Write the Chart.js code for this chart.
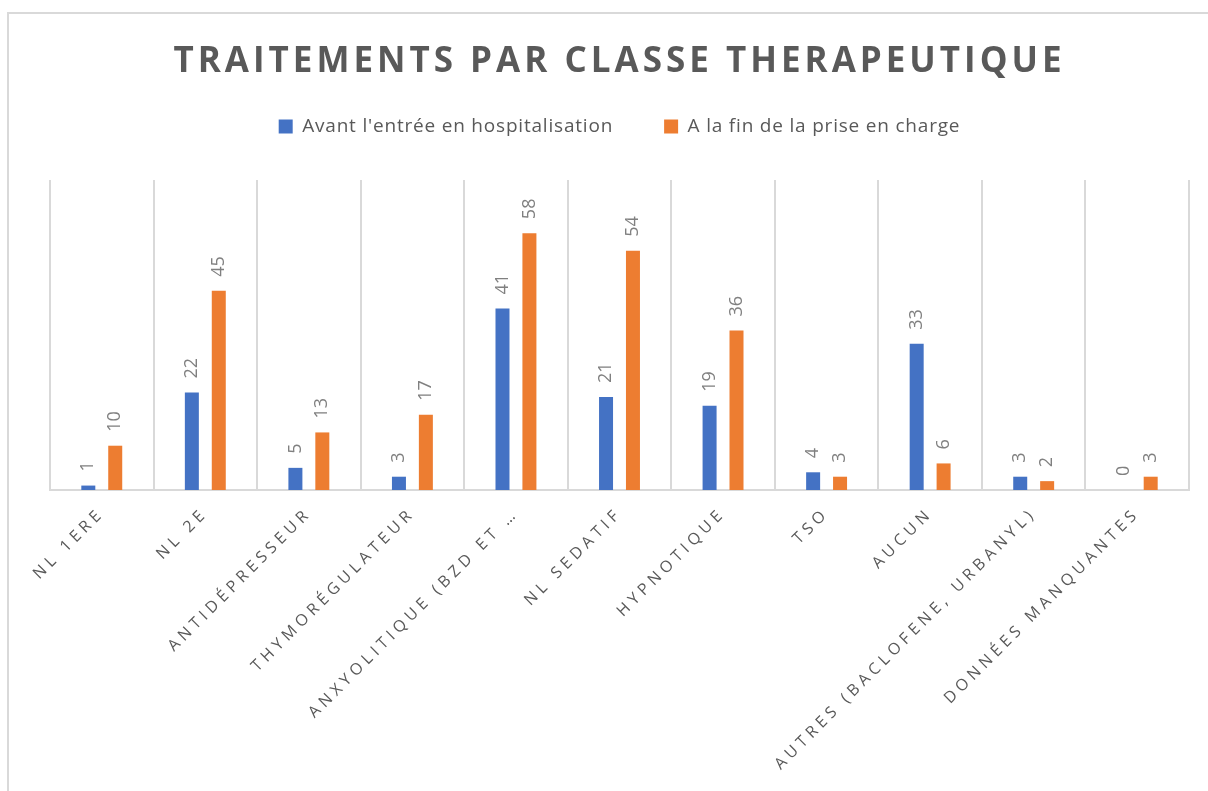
<!DOCTYPE html>
<html>
<head>
<meta charset="utf-8">
<script src="https://cdn.jsdelivr.net/npm/chart.js@4.4.1/dist/chart.umd.min.js"></script>
<style>
  html, body { margin: 0; padding: 0; background: #fff; overflow: hidden; }
  #frame { position: absolute; left: 7px; top: 12px; width: 1300px; height: 900px; border: 2px solid #d9d9d9; }
  #chart { position: absolute; left: 0; top: 0; }
</style>
</head>
<body>
<div id="frame"></div>
<canvas id="chart" width="1208" height="791"></canvas>
<script>
const categories = [
    'NL 1ERE', 'NL 2E', 'ANTIDÉPRESSEUR', 'THYMORÉGULATEUR', 'ANXYOLITIQUE (BZD ET …',
    'NL SEDATIF', 'HYPNOTIQUE', 'TSO', 'AUCUN', 'AUTRES (BACLOFENE, URBANYL)', 'DONNÉES MANQUANTES'
]
const avantHospit = [1, 22, 5, 3, 41, 21, 19, 4, 33, 3, 0]
const finPriseEnCharge = [10, 45, 13, 17, 58, 54, 36, 3, 6, 2, 3]
const seriesNames = ["Avant l'entrée en hospitalisation", 'A la fin de la prise en charge']
const yMin = 0
const yMax = 70

// canvas letterSpacing on a single element method
function withSpacing(obj, fn, spacing) {
    if (!obj || obj['_sp_' + fn]) return
    const orig = obj[fn]
    obj[fn] = function (...args) {
        this.ctx.save()
        this.ctx.letterSpacing = spacing
        const r = orig.apply(this, args)
        this.ctx.restore()
        return r
    }
    obj['_sp_' + fn] = true
}

const spacingPlugin = {
    id: 'spacing',
    beforeLayout(chart) {
        const lg = chart.legend
        if (lg && !lg._extraFit) {
            const fit = lg.fit
            lg.fit = function (...args) {
                this.ctx.save()
                this.ctx.letterSpacing = '0.8px'
                fit.apply(this, args)
                this.ctx.restore()
                this.height += 34  // room between legend and plot
            }
            lg._extraFit = true
        }
        withSpacing(lg, 'draw', '0.8px')
    },
    beforeDraw(chart) {
        withSpacing(chart.titleBlock, 'draw', '4px')
        withSpacing(chart.scales.x, 'drawLabels', '4.5px')
    }
}

// vertical value labels above each bar
const valueLabels = {
    id: 'valueLabels',
    afterDatasetsDraw(chart) {
        const ctx = chart.ctx
        ctx.save()
        ctx.font = '18px "Open Sans", sans-serif'
        ctx.fillStyle = '#808080'
        ctx.textAlign = 'left'
        ctx.textBaseline = 'middle'
        chart.data.datasets.forEach((ds, i) => {
            chart.getDatasetMeta(i).data.forEach((bar, j) => {
                ctx.save()
                ctx.translate(bar.x, bar.y - 14)
                ctx.rotate(-Math.PI / 2)
                ctx.fillText(String(ds.data[j]), 0, 0)
                ctx.restore()
            })
        })
        ctx.restore()
    }
}

const chart = new Chart(document.getElementById('chart'), {
    type: 'bar',
    data: {
        labels: categories,
        datasets: [
            { label: seriesNames[0], data: avantHospit, backgroundColor: '#4472C4', categoryPercentage: 0.52, barPercentage: 0.52 },
            { label: seriesNames[1], data: finPriseEnCharge, backgroundColor: '#ED7D31', categoryPercentage: 0.52, barPercentage: 0.52 }
        ]
    },
    options: {
        responsive: false,
        animation: false,
        layout: { padding: { left: 50, right: 19, top: 0, bottom: 0 } },
        plugins: {
            title: {
                display: true,
                text: 'TRAITEMENTS PAR CLASSE THERAPEUTIQUE',
                color: '#595959',
                font: { family: '"Open Sans", sans-serif', size: 35, weight: 'bold', lineHeight: 0.2 },
                padding: { top: 59, bottom: 0 }
            },
            legend: {
                position: 'top',
                labels: {
                    color: '#595959',
                    font: { family: '"Open Sans", sans-serif', size: 19 },
                    boxWidth: 14,
                    boxHeight: 14,
                    padding: 51
                }
            },
            tooltip: { enabled: false }
        },
        scales: {
            x: {
                grid: { display: true, color: '#d9d9d9', lineWidth: 2, drawTicks: false, offset: true },
                border: { display: true, color: '#d9d9d9', width: 2 },
                ticks: {
                    color: '#595959',
                    font: { family: '"Open Sans", sans-serif', size: 16 },
                    autoSkip: false,
                    minRotation: 45,
                    maxRotation: 45,
                    padding: 14
                },
                afterFit: (scale) => { scale.height = 301 }
            },
            y: {
                display: false,
                min: yMin,
                max: yMax
            }
        }
    },
    plugins: [spacingPlugin, valueLabels]
})
chart.update()
</script>
</body>
</html>
